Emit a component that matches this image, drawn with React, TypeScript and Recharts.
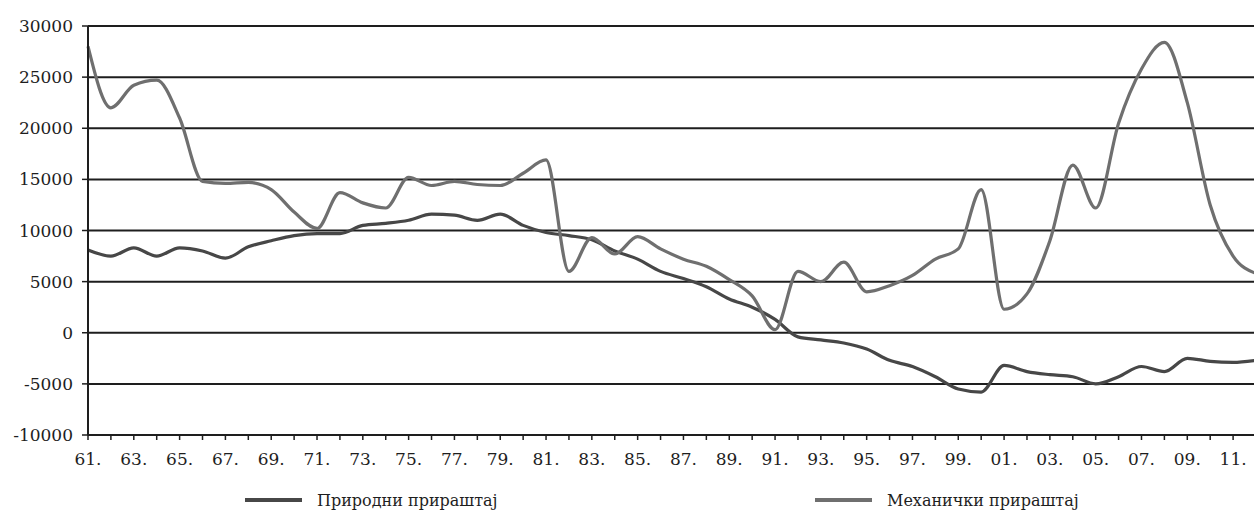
import { LineChart, Line, XAxis, YAxis, CartesianGrid, Legend } from 'recharts';

const years = [
  '61', '62', '63', '64', '65', '66', '67', '68', '69', '70',
  '71', '72', '73', '74', '75', '76', '77', '78', '79', '80',
  '81', '82', '83', '84', '85', '86', '87', '88', '89', '90',
  '91', '92', '93', '94', '95', '96', '97', '98', '99', '00',
  '01', '02', '03', '04', '05', '06', '07', '08', '09', '10',
  '11', '12',
];

// Природни прираштај
const natural = [
  8100, 7500, 8300, 7500, 8300, 8000, 7300, 8400, 9000, 9500,
  9700, 9700, 10500, 10700, 11000, 11600, 11500, 11000, 11600, 10500,
  9800, 9500, 9100, 8000, 7200, 6000, 5300, 4500, 3300, 2500,
  1300, -400, -700, -1000, -1600, -2700, -3300, -4300, -5500, -5800,
  -3200, -3800, -4100, -4300, -5000, -4300, -3300, -3800, -2500, -2800,
  -2900, -2700,
];

// Механички прираштај
const mechanical = [
  28000, 22000, 24200, 24700, 21000, 14800, 14600, 14700, 14000, 11800,
  10200, 13700, 12700, 12200, 15200, 14400, 14800, 14500, 14400, 15600,
  16900, 6000, 9300, 7700, 9400, 8200, 7200, 6500, 5200, 3600,
  300, 6000, 5000, 6900, 4000, 4600, 5600, 7200, 8200, 14000,
  2300, 3800, 9000, 16400, 12200, 20500, 25800, 28400, 22500, 12500,
  7500, 5800,
];

const yTicks = [-10000, -5000, 0, 5000, 10000, 15000, 20000, 25000, 30000];

const naturalName = 'Природни прираштај';
const mechanicalName = 'Механички прираштај';

const data = years.map((y, i) => ({
  year: y,
  natural: natural[i],
  mechanical: mechanical[i],
}));

const font = '"DejaVu Serif", "Liberation Serif", serif';
const ink = '#1e1e1e';

const YearTick = (props: any) => {
  const { x, y, payload } = props;
  if (payload.index % 2 !== 0) return null;
  return (
    <text x={x} y={y} dy="0.71em" textAnchor="middle" fill={ink} fontFamily={font} fontSize={17}>
      {payload.value + '.'}
    </text>
  );
};

// left edge of each legend entry
const legendLeft: Record<string, number> = {
  [naturalName]: 245,
  [mechanicalName]: 815,
};

const LegendContent = (props: any) => {
  const items = props.payload || [];
  return (
    <div style={{ position: 'relative', height: 24 }}>
      {items.map((item: any) => (
        <div
          key={item.value}
          style={{
            position: 'absolute',
            left: legendLeft[item.value],
            top: 0,
            height: 24,
            display: 'flex',
            alignItems: 'center',
            whiteSpace: 'nowrap',
          }}
        >
          <span style={{ display: 'inline-block', width: 57, height: 4, background: item.color }} />
          <span style={{ marginLeft: 15, fontFamily: font, fontSize: 16, color: ink }}>{item.value}</span>
        </div>
      ))}
    </div>
  );
};

const App = () => {
  return (
    <div
      style={{
        position: 'absolute',
        top: 0,
        left: 0,
        width: 1254,
        height: 513,
        overflow: 'hidden',
        background: '#fff',
      }}
    >
      <LineChart
        width={1256}
        height={513}
        data={data}
        margin={{ top: 26, right: 0, bottom: 48, left: 0 }}
      >
        <CartesianGrid vertical={false} stroke={ink} strokeWidth={2} />
        <XAxis
          dataKey="year"
          interval={0}
          tick={<YearTick />}
          tickSize={5}
          tickMargin={13}
          height={30}
          axisLine={{ stroke: ink, strokeWidth: 2 }}
          tickLine={{ stroke: ink, strokeWidth: 1.5 }}
        />
        <YAxis
          width={88}
          domain={[-10000, 30000]}
          ticks={yTicks}
          interval={0}
          tickSize={6}
          tickMargin={9}
          axisLine={{ stroke: ink, strokeWidth: 2 }}
          tickLine={{ stroke: ink, strokeWidth: 1.5 }}
          tick={{ fill: ink, fontFamily: font, fontSize: 17 }}
        />
        <Legend
          layout="horizontal"
          verticalAlign="middle"
          align="center"
          wrapperStyle={{ top: 488, left: 0, width: 1254, height: 24 }}
          content={<LegendContent />}
        />
        <Line
          type="monotone"
          dataKey="natural"
          name={naturalName}
          stroke="#474747"
          strokeWidth={3.2}
          dot={false}
          isAnimationActive={false}
        />
        <Line
          type="monotone"
          dataKey="mechanical"
          name={mechanicalName}
          stroke="#6f6f6f"
          strokeWidth={3.2}
          dot={false}
          isAnimationActive={false}
        />
      </LineChart>
    </div>
  );
};

export default App;
